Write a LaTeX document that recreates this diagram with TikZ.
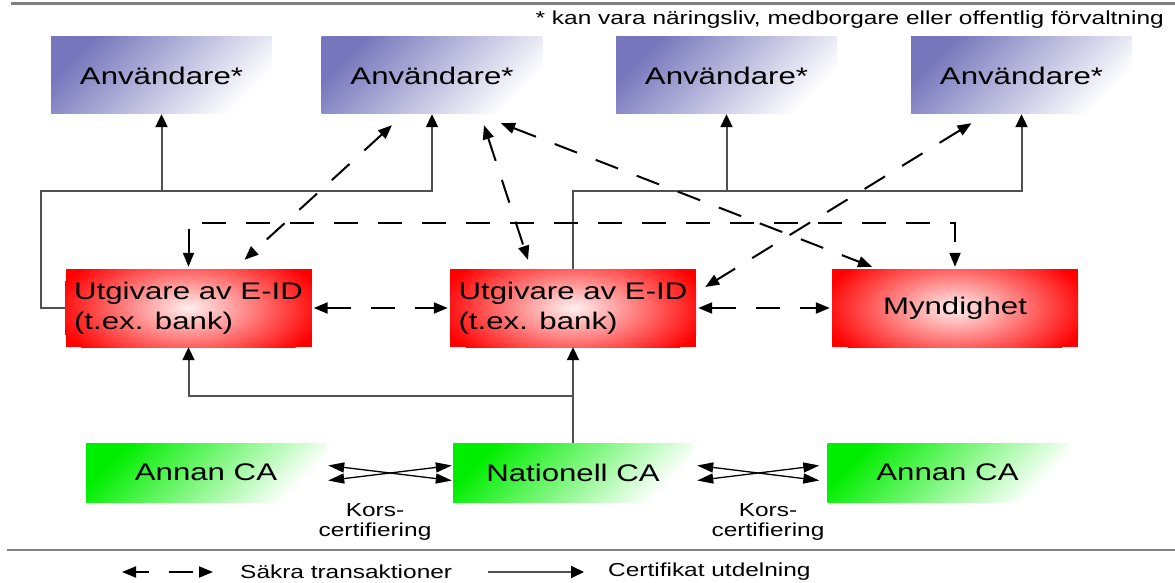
\documentclass[tikz,border=0pt]{standalone}
\usepackage{fontspec}
\setmainfont{Liberation Sans}[FakeStretch=1.3]
\usepackage{tikz}
\usetikzlibrary{arrows.meta}
\definecolor{anvblue}{RGB}{118,118,188}
\definecolor{cagreen}{RGB}{0,238,0}
\definecolor{linegray}{RGB}{80,80,80}
\newcommand\boxtext{\fontsize{24}{30}\selectfont}
\newcommand\smalltext{\fontsize{18.8}{20}\selectfont}

\begin{document}
\begin{tikzpicture}[x = 1pt, y = -1pt,
	user/.style = {top color=anvblue, bottom color=white, shading angle=45, minimum width=221pt, minimum height=77pt, inner sep=0, font=\boxtext},
	issuer/.style = {fill=red, path picture={\shade[inner color=red!6, outer color=red] (path picture bounding box.center) ellipse [x radius=135pt, y radius=65pt];}, minimum width=246pt, minimum height=78pt, inner sep=0, align=left, font=\boxtext},
	ca/.style = {top color=cagreen, bottom color=white, shading angle=45, minimum width=240pt, minimum height=59pt, inner sep=0, font=\boxtext},
	note/.style = {inner sep=0, align=center, font=\smalltext},
	cert/.style = {draw=linegray, line width=2pt, ->, >={Triangle[length=13pt, width=12pt, color=black]}},
	sec/.style = {line width=2pt, dash pattern=on 24pt off 20pt, <->, >={Triangle[length=14pt, width=11pt]}},
	korsarrow/.style = {line width=1.3pt, <->, >={Triangle[length=16pt, width=10pt]}},
	sepline/.style = {draw=black!50, line width=2.5pt}]
	\useasboundingbox (0,0) rectangle (1175,583);
	\node[user] (u1) at (161.5,75.5) {Användare*};
	\node[user] (u2) at (432,75.5) {Användare*};
	\node[user] (u3) at (726.5,75.5) {Användare*};
	\node[user] (u4) at (1021.5,75.5) {Användare*};
	\node[issuer] (r1) at (188.5,308) {Utgivare av E-ID\\(t.ex. bank)};
	\node[issuer] (r2) at (573,308) {Utgivare av E-ID\\(t.ex. bank)};
	\node[issuer] (myn) at (955,308) {Myndighet};
	\node[ca] (ca1) at (206,472.5) {Annan CA};
	\node[ca] (nca) at (573,472.5) {Nationell CA};
	\node[ca] (ca2) at (947.5,472.5) {Annan CA};
	\node[note, anchor=east] (fot) at (1164,20) {* kan vara näringsliv, medborgare eller offentlig förvaltning};
	\node[note] (kors1) at (375,522) {Kors-\\certifiering};
	\node[note] (kors2) at (768,522) {Kors-\\certifiering};
	\node[note, anchor=west] (leg1) at (240,572) {Säkra transaktioner};
	\node[note, anchor=west] (leg2) at (608,572) {Certifikat utdelning};
	\coordinate (j1) at (41,191);
	\coordinate (j2) at (573,396);
	\coordinate (t1) at (189,223);
	\draw[sepline] (11,3.5) -- (1175,3.5);
	\draw[sepline] (7,550) -- (1175,550);
	\draw[cert] (r1.west) -| (j1) -| (u2.south);
	\draw[cert] (j1 -| u1.south) -- (u1.south);
	\draw[cert] (r2.north) |- (j1 -| u4.south) -- (u4.south);
	\draw[cert] (j1 -| u3.south) -- (u3.south);
	\draw[cert] (nca.north) -- (r2.south);
	\draw[cert] (j2) -| (r1.south);
	\draw[sec] ([shift={(-40,11)}]u2.south) -- ([shift={(56,-9)}]r1.north);
	\draw[sec] ([shift={(52,11)}]u2.south) -- ([shift={(-45,-9)}]r2.north);
	\draw[sec] ([shift={(69,9)}]u2.south) -- ([shift={(-83,-2)}]myn.north);
	\draw[sec] ([shift={(-50,9)}]u4.south) -- ([shift={(9,-21)}]r2.east);
	\draw[sec, shorten <=2pt, shorten >=2pt] (r1.east) -- (r2.west);
	\draw[sec, shorten <=2pt, shorten >=2pt] (r2.east) -- (myn.west);
	\draw[sec, shorten <=2pt, shorten >=2pt] (r1.north) |- (t1 -| myn.north) -- (myn.north);
	\draw[korsarrow] ([shift={(2,-7)}]ca1.east) -- ([shift={(-1,8)}]nca.west);
	\draw[korsarrow] ([shift={(2,8)}]ca1.east) -- ([shift={(-1,-7)}]nca.west);
	\draw[korsarrow] ([shift={(4,-7)}]nca.east) -- ([shift={(-8,8)}]ca2.west);
	\draw[korsarrow] ([shift={(4,8)}]nca.east) -- ([shift={(-8,-7)}]ca2.west);
	\draw[sec, dash phase=11pt] ([xshift=-118pt]leg1.west) -- ([xshift=-27pt]leg1.west);
	\draw[cert] ([xshift=-120pt]leg2.west) -- ([xshift=-24pt]leg2.west);
\end{tikzpicture}
\end{document}
